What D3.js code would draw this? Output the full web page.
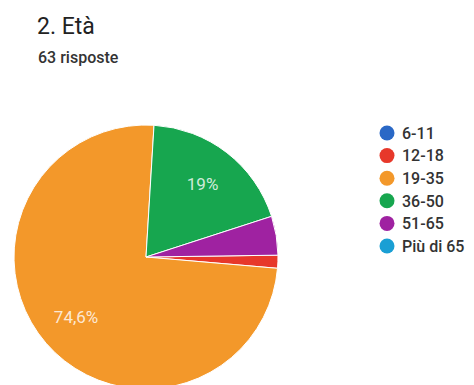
<!DOCTYPE html>
<html>
<head>
<meta charset="utf-8">
<script src="https://cdn.jsdelivr.net/npm/d3@7"></script>
<style>
  body { margin: 0; background: #fff; }
  svg { display: block; font-family: Roboto, "Noto Sans", sans-serif; }
</style>
</head>
<body>
<div id="viz"></div>
<script>
// risposte per fascia d'età (63 totali)
var categories = ["6-11", "12-18", "19-35", "36-50", "51-65", "Più di 65"];
var counts = [0, 1, 47, 12, 3, 0];
var colors = ["#2a68c6", "#e7382a", "#f3982a", "#17a64f", "#9f22a1", "#1a9fd4"];

var title = "2. Età";
var subtitle = "63 risposte";

var width = 474, height = 385;
var cx = 146, cy = 257, radius = 132;

var svg = d3.select("#viz")
        .append("svg")
        .attr("width", width)
        .attr("height", height);

svg.append("text")
    .attr("x", 37)
    .attr("y", 34)
    .style("font-size", "23px")
    .style("fill", "#222")
    .text(title);

svg.append("text")
    .attr("x", 38)
    .attr("y", 63)
    .style("font-size", "16px")
    .style("font-weight", 500)
    .style("fill", "#333")
    .text(subtitle);

var total = d3.sum(counts);
var data = categories.map(function(c, i) {
    return {name: c, value: counts[i], color: colors[i]};
});

// il primo spicchio non vuoto parte quasi a ore 3
var start = 89.2 * Math.PI / 180;
var pie = d3.pie()
    .sort(null)
    .value(function(d) { return d.value; })
    .startAngle(start)
    .endAngle(start + 2 * Math.PI);

var arc = d3.arc().innerRadius(0).outerRadius(radius);
var labelArc = d3.arc().innerRadius(radius * 0.7).outerRadius(radius * 0.7);

var it = d3.formatLocale({decimal: ",", thousands: ".", grouping: [3], currency: ["", "€"]});
var pct = it.format(".3~r");

var g = svg.append("g").attr("transform", "translate(" + cx + "," + cy + ")");

var slices = pie(data).filter(function(d) { return d.data.value > 0; });

g.selectAll("path")
    .data(slices)
    .enter()
    .append("path")
    .attr("d", arc)
    .style("fill", function(d) { return d.data.color; })
    .style("stroke", "#fff")
    .style("stroke-width", 1);

g.selectAll("text")
    .data(slices.filter(function(d) { return d.data.value / total > 0.05; }))
    .enter()
    .append("text")
    .attr("x", function(d) { return labelArc.centroid(d)[0]; })
    .attr("y", function(d) { return labelArc.centroid(d)[1]; })
    .attr("dy", "0.35em")
    .attr("text-anchor", "middle")
    .style("font-size", "17px")
    .style("fill", "#fff")
    .style("fill-opacity", 0.8)
    .text(function(d) { return pct(100 * d.data.value / total) + "%"; });

var legend = svg.append("g").attr("transform", "translate(387,133)");

var items = legend.selectAll("g")
    .data(data)
    .enter()
    .append("g")
    .attr("transform", function(d, i) { return "translate(0," + (i * 22.6) + ")"; });

items.append("circle")
    .attr("r", 7.5)
    .style("fill", function(d) { return d.color; });

items.append("text")
    .attr("x", 15)
    .attr("dy", "0.36em")
    .style("font-size", "16px")
    .style("font-weight", 500)
    .style("fill", "#333")
    .text(function(d) { return d.name; });
</script>
</body>
</html>
